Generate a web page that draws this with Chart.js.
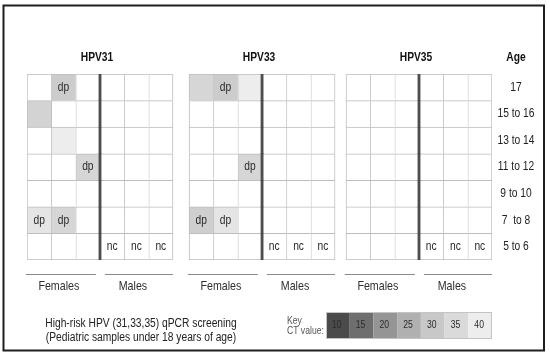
<!DOCTYPE html>
<html>
<head>
<meta charset="utf-8">
<script src="https://cdn.jsdelivr.net/npm/chart.js@4.4.1/dist/chart.umd.min.js"></script>
<style>
  html, body { margin: 0; padding: 0; background: #fff; }
  canvas { display: block; }
</style>
</head>
<body>
<canvas id="chart" width="550" height="356"></canvas>
<script>
const FONT = '"Liberation Sans", Arial, sans-serif';
const SQUEEZE = 0.82; // the original lettering is narrow

// rows top to bottom
const ages = ['17', '15 to 16', '13 to 14', '11 to 12', '9 to 10', '7  to 8', '5 to 6'];
const panels = ['HPV31', 'HPV33', 'HPV35'];
const sexes = ['Females', 'Males'];
const keyCt = [10, 15, 20, 25, 30, 35, 40];
const footer = ['High-risk HPV (31,33,35) qPCR screening', '(Pediatric samples under 18 years of age)'];

// CT value per cell: 3 female columns then 3 male columns
const hpv31Ct = [
  [null, 31, null, null, null, null],
  [33, null, null, null, null, null],
  [null, 40, null, null, null, null],
  [null, null, 34, null, null, null],
  [null, null, null, null, null, null],
  [38, 34, null, null, null, null],
  [null, null, null, null, null, null]
];
const hpv33Ct = [
  [34, 31, 40, null, null, null],
  [null, null, null, null, null, null],
  [null, null, null, null, null, null],
  [null, null, 34, null, null, null],
  [null, null, null, null, null, null],
  [32, 38, null, null, null, null],
  [null, null, null, null, null, null]
];
const hpv35Ct = [
  [null, null, null, null, null, null],
  [null, null, null, null, null, null],
  [null, null, null, null, null, null],
  [null, null, null, null, null, null],
  [null, null, null, null, null, null],
  [null, null, null, null, null, null],
  [null, null, null, null, null, null]
];

// text written in the cells
const hpv31Tag = [
  ['', 'dp', '', '', '', ''],
  ['', '', '', '', '', ''],
  ['', '', '', '', '', ''],
  ['', '', 'dp', '', '', ''],
  ['', '', '', '', '', ''],
  ['dp', 'dp', '', '', '', ''],
  ['', '', '', 'nc', 'nc', 'nc']
];
const hpv33Tag = [
  ['', 'dp', '', '', '', ''],
  ['', '', '', '', '', ''],
  ['', '', '', '', '', ''],
  ['', '', 'dp', '', '', ''],
  ['', '', '', '', '', ''],
  ['dp', 'dp', '', '', '', ''],
  ['', '', '', 'nc', 'nc', 'nc']
];
const hpv35Tag = [
  ['', '', '', '', '', ''],
  ['', '', '', '', '', ''],
  ['', '', '', '', '', ''],
  ['', '', '', '', '', ''],
  ['', '', '', '', '', ''],
  ['', '', '', '', '', ''],
  ['', '', '', 'nc', 'nc', 'nc']
];

const cts = [hpv31Ct, hpv33Ct, hpv35Ct];
const tags = [hpv31Tag, hpv33Tag, hpv35Tag];

// layout (in column units on the x scale)
const keyGrey = [0x4b, 0x6e, 0x95, 0xb0, 0xc8, 0xda, 0xed];
const PANEL_X = [0, 6.66, 13.11];
const X_MAX = 19.11;
const GRID = '#bdbdbd';

function grey(v) {
  return 'rgb(' + v + ',' + v + ',' + v + ')';
}

// shade for a CT value, read against the key
function shade(ct) {
  if (ct == null) return '#ffffff';
  if (ct <= keyCt[0]) return grey(keyGrey[0]);
  for (let i = 1; i < keyCt.length; i++) {
    if (ct <= keyCt[i]) {
      const t = (ct - keyCt[i - 1]) / (keyCt[i] - keyCt[i - 1]);
      return grey(Math.round(keyGrey[i - 1] + t * (keyGrey[i] - keyGrey[i - 1])));
    }
  }
  return grey(keyGrey[keyGrey.length - 1]);
}

const datasets = [];

// dark line between females and males
PANEL_X.forEach((off) => {
  datasets.push({
    data: ages.map(() => [off + 3 - 0.045, off + 3 + 0.045]),
    backgroundColor: '#4d4d4d',
    borderWidth: 0,
    order: -1,
    grouped: false,
    categoryPercentage: 1,
    barPercentage: 1
  });
});

panels.forEach((name, p) => {
  const off = PANEL_X[p];
  for (let c = 0; c < 6; c++) {
    datasets.push({
      label: name + ' ' + c,
      data: ages.map(() => [off + c, off + c + 1]),
      backgroundColor: ages.map((a, r) => shade(cts[p][r][c])),
      borderColor: GRID,
      borderWidth: ages.map((a, r) => ({
        left: 1,
        top: 1,
        right: c === 5 ? 1 : 0,
        bottom: r === ages.length - 1 ? 1 : 0
      })),
      borderSkipped: false,
      grouped: false,
      categoryPercentage: 1,
      barPercentage: 1
    });
  }
});

function text(ctx, str, x, y, font, color, align) {
  ctx.save();
  ctx.font = font;
  ctx.fillStyle = color;
  ctx.textAlign = align || 'center';
  ctx.textBaseline = 'middle';
  ctx.translate(x, y);
  ctx.scale(SQUEEZE, 1);
  ctx.fillText(str, 0, 0);
  ctx.restore();
}

const decor = {
  id: 'decor',
  beforeDraw(chart) {
    const ctx = chart.ctx;
    ctx.save();
    ctx.fillStyle = '#fff';
    ctx.fillRect(0, 0, chart.width, chart.height);
    ctx.strokeStyle = '#1e1e1e';
    ctx.lineWidth = 2;
    ctx.strokeRect(3.5, 5.5, 540.5, 345);
    ctx.restore();
  },
  afterDatasetsDraw(chart) {
    const ctx = chart.ctx;
    const xs = chart.scales.x, ys = chart.scales.y;
    tags.forEach((grid, p) => {
      grid.forEach((row, r) => {
        row.forEach((t, c) => {
          if (!t) return;
          const x = xs.getPixelForValue(PANEL_X[p] + c + 0.5);
          const y = ys.getPixelForValue(r);
          text(ctx, t, x, y, '12.5px ' + FONT, '#2a2a2a');
        });
      });
    });
  },
  afterDraw(chart) {
    const ctx = chart.ctx;
    const xs = chart.scales.x, ys = chart.scales.y;

    // age labels on the right
    ages.forEach((a, r) => {
      text(ctx, a, 516, ys.getPixelForValue(r), '12.5px ' + FONT, '#222');
    });
    text(ctx, 'Age', 516, 58, 'bold 12.5px ' + FONT, '#111');

    panels.forEach((name, p) => {
      const off = PANEL_X[p];
      text(ctx, name, xs.getPixelForValue(off + 3) - 3, 58, 'bold 12.5px ' + FONT, '#111');

      // group underlines and labels
      const spans = [[off - 0.05, off + 2.83], [off + 3.2, off + 6]];
      spans.forEach((s, g) => {
        const x0 = xs.getPixelForValue(s[0]);
        const x1 = xs.getPixelForValue(s[1]);
        ctx.save();
        ctx.strokeStyle = '#8a8a8a';
        ctx.lineWidth = 1;
        ctx.beginPath();
        ctx.moveTo(x0, 274.5);
        ctx.lineTo(x1, 274.5);
        ctx.stroke();
        ctx.restore();
        text(ctx, sexes[g], (x0 + x1) / 2 - (g ? 6 : 2), 286, '13px ' + FONT, '#2e2e2e');
      });
    });

    text(ctx, footer[0], 141, 324, '12.5px ' + FONT, '#222');
    text(ctx, footer[1], 141, 338, '12.5px ' + FONT, '#222');

    // key
    text(ctx, 'Key', 287, 321, '10.5px ' + FONT, '#555', 'left');
    text(ctx, 'CT value:', 287, 331, '10.5px ' + FONT, '#555', 'left');
    const kx = 326, ky = 312, kw = (492 - 326) / keyCt.length, kh = 27;
    ctx.save();
    keyCt.forEach((v, i) => {
      ctx.fillStyle = grey(keyGrey[i]);
      ctx.fillRect(kx + i * kw, ky, kw, kh);
    });
    ctx.strokeStyle = '#c4c4c4';
    ctx.lineWidth = 1;
    ctx.strokeRect(kx + 0.5, ky + 0.5, kw * keyCt.length - 1, kh - 1);
    ctx.restore();
    keyCt.forEach((v, i) => {
      text(ctx, String(v), kx + i * kw + kw / 2 - 1, ky + kh / 2, '10.5px ' + FONT, '#2b2b2b');
    });
  }
};

new Chart(document.getElementById('chart'), {
  type: 'bar',
  data: { labels: ages, datasets: datasets },
  options: {
    indexAxis: 'y',
    responsive: false,
    animation: false,
    events: [],
    layout: { padding: { left: 27, top: 74, bottom: 96, right: 58 } },
    plugins: {
      legend: { display: false },
      tooltip: { enabled: false },
      title: { display: false }
    },
    scales: {
      x: { type: 'linear', min: 0, max: X_MAX, display: false },
      y: { type: 'category', display: false }
    }
  },
  plugins: [decor]
});
</script>
</body>
</html>
